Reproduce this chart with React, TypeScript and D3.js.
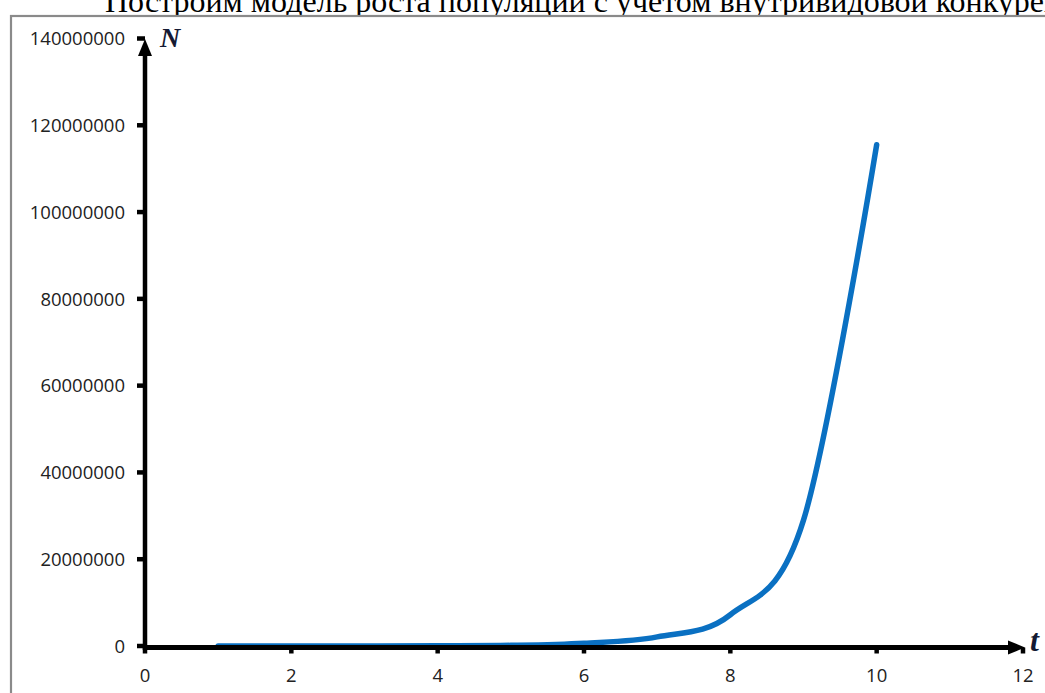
import React from "react";
import * as d3 from "d3";

const times = [1, 2, 3, 4, 5, 6, 7, 8, 9, 10];
const population = [1000, 5000, 15000, 50000, 150000, 650000, 2100000, 7200000, 29000000, 115500000];
const yTicks = [0, 20000000, 40000000, 60000000, 80000000, 100000000, 120000000, 140000000];
const xTicks = [0, 2, 4, 6, 8, 10, 12];
const title = "Построим модель роста популяции с учетом внутривидовой конкуренции";

const W = 1045;
const H = 693;

export default function App() {
  const x = d3.scaleLinear().domain([0, 12]).range([145, 1023]);
  const y = d3.scaleLinear().domain([0, 140000000]).range([646, 38.5]);
  const axisY = 647.5;
  const line = d3
    .line<number>()
    .x((_, i) => x(times[i]))
    .y((d) => y(d))
    .curve(d3.curveCardinal.tension(0));
  const path = line(population) || "";
  const labelFont = "'Open Sans', 'Liberation Sans', sans-serif";
  return (
    <div style={{ position: "fixed", left: 0, top: 0, width: W, height: H, background: "#fff" }}>
      <svg width={W} height={H} style={{ display: "block" }}>
        <rect x={0} y={0} width={W} height={H} fill="#fff" />
        <text
          x={105}
          y={12}
          fontFamily="'Liberation Serif', 'Times New Roman', serif"
          fontSize={32}
          fill="#000"
        >
          {title}
        </text>
        <rect x={11} y={16} width={1200} height={900} fill="#fff" stroke="#8a8a8a" strokeWidth={2.2} />
        {/* curve */}
        <path d={path} fill="none" stroke="#0a70c2" strokeWidth={5.5} strokeLinecap="round" strokeLinejoin="round" />
        {/* y axis */}
        <line x1={x(0)} x2={x(0)} y1={axisY + 2.5} y2={54} stroke="#000" strokeWidth={4.5} />
        <path d={`M${x(0)},${39} L${x(0) - 7},${56} L${x(0) + 7},${56} Z`} fill="#000" />
        {yTicks.map((t) => (
          <g key={"yt" + t}>
            <line x1={x(0) - 8} x2={x(0)} y1={y(t)} y2={y(t)} stroke="#000" strokeWidth={4.5} />
            <text
              x={125}
              y={y(t)}
              dy="0.36em"
              textAnchor="end"
              fontFamily={labelFont}
              fontSize={18.5}
              fill="#222"
            >
              {String(t)}
            </text>
          </g>
        ))}
        {/* x axis */}
        <line x1={x(0) - 2} x2={1009} y1={axisY} y2={axisY} stroke="#000" strokeWidth={5} />
        <path d={`M${1025},${axisY} L${1008},${axisY - 7} L${1008},${axisY + 7} Z`} fill="#000" />
        {xTicks.map((t) => (
          <g key={"xt" + t}>
            <line x1={x(t)} x2={x(t)} y1={axisY} y2={axisY + 6} stroke="#000" strokeWidth={4.5} />
            <text
              x={x(t)}
              y={675}
              dy="0.36em"
              textAnchor="middle"
              fontFamily={labelFont}
              fontSize={18.5}
              fill="#222"
            >
              {String(t)}
            </text>
          </g>
        ))}
        <text
          x={160}
          y={47}
          fontFamily="'Liberation Serif', 'Times New Roman', serif"
          fontWeight="bold"
          fontStyle="italic"
          fontSize={28}
          fill="#141a33"
        >
          N
        </text>
        <text
          x={1030}
          y={651}
          fontFamily="'Liberation Serif', 'Times New Roman', serif"
          fontWeight="bold"
          fontStyle="italic"
          fontSize={32}
          fill="#141a33"
        >
          t
        </text>
      </svg>
    </div>
  );
}
